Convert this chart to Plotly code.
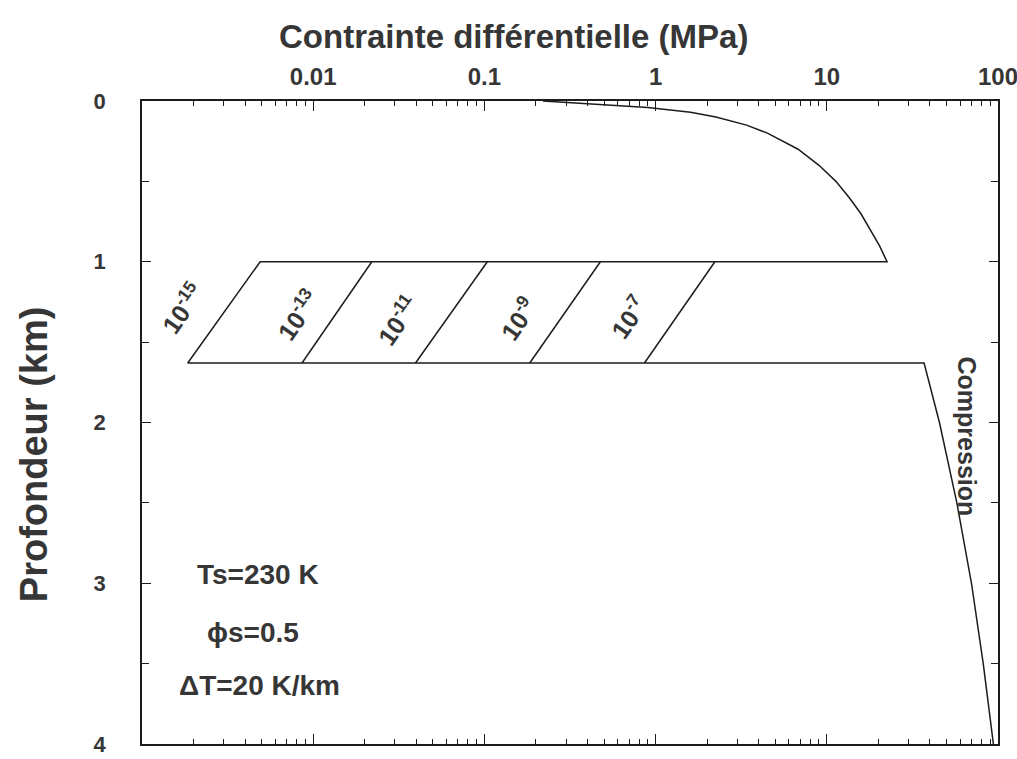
import numpy as np
import plotly.graph_objects as go

# Brittle (frictional) strength near the surface: depth (km) vs stress (MPa)
brittle_depth = [0.0, 0.02, 0.04, 0.07, 0.1, 0.15, 0.2, 0.3, 0.4, 0.5, 0.6, 0.7, 0.8, 0.9, 1.0]
brittle_stress = [0.22, 0.45, 0.9, 1.6, 2.25, 3.4, 4.5, 6.8, 9.0, 11.3, 13.5, 15.8, 18.0, 20.3, 22.5]

# Ductile band between the two transition depths, one line per strain rate
transition_top_depth = 1.0
transition_base_depth = 1.63
strain_rate_labels = ["10<sup>-15</sup>", "10<sup>-13</sup>", "10<sup>-11</sup>",
                      "10<sup>-9</sup>", "10<sup>-7</sup>"]
ductile_stress_top = [0.0049, 0.022, 0.104, 0.476, 2.22]
ductile_stress_base = [0.00185, 0.0086, 0.0396, 0.184, 0.861]
label_stress = [0.00172, 0.00807, 0.031, 0.158, 0.695]
label_depth = [1.29, 1.33, 1.36, 1.35, 1.345]

# Compressive strength below the band
compression_depth = [1.63, 2.0, 2.5, 3.0, 3.5, 4.0]
compression_stress = [37.0, 45.5, 57.5, 70.0, 82.0, 94.0]

# Axis ticks
x_tickvals = [0.01, 0.1, 1, 10, 100]
x_ticktext = ["0.01", "0.1", "1", "10", "100"]
x_minor = [m * 10.0 ** e for e in range(-3, 2) for m in range(2, 10)]
y_tickvals = [0, 1, 2, 3, 4]

LINE = "#1c1c1c"
TEXT = "#363636"
FONT = "Liberation Sans, Arial, Helvetica, sans-serif"

fig = go.Figure()

# Outer envelope: brittle curve, top of band, 10^-15 line, base of band, compression
outline_x = brittle_stress + [ductile_stress_top[0], ductile_stress_base[0]] + compression_stress
outline_y = brittle_depth + [transition_top_depth, transition_base_depth] + compression_depth
fig.add_trace(go.Scatter(x=outline_x, y=outline_y, mode="lines",
                         line=dict(color=LINE, width=1.5), hoverinfo="skip"))

# Remaining strain-rate lines across the band
sx, sy = [], []
for top, base in zip(ductile_stress_top[1:], ductile_stress_base[1:]):
    sx += [top, base, None]
    sy += [transition_top_depth, transition_base_depth, None]
fig.add_trace(go.Scatter(x=sx, y=sy, mode="lines",
                         line=dict(color=LINE, width=1.5), hoverinfo="skip"))

annotations = []
for lab, xs, yd in zip(strain_rate_labels, label_stress, label_depth):
    annotations.append(dict(x=np.log10(xs), y=yd, xref="x", yref="y", text="<b>" + lab + "</b>",
                            showarrow=False, textangle=-55,
                            font=dict(family=FONT, size=25, color=TEXT, weight="bold")))

annotations.append(dict(x=np.log10(66.0), y=2.088, xref="x", yref="y", text="Compression",
                        showarrow=False, textangle=90,
                        font=dict(family=FONT, size=25, color=TEXT, weight="bold")))

for txt, xs, yd in [("Ts=230 K", 0.00479, 2.945),
                    ("ϕs=0.5", 0.00446, 3.309),
                    ("ΔT=20 K/km", 0.00484, 3.637)]:
    annotations.append(dict(x=np.log10(xs), y=yd, xref="x", yref="y", text=txt,
                            showarrow=False,
                            font=dict(family=FONT, size=28, color=TEXT, weight="bold")))

annotations.append(dict(x=0.434, y=1.1, xref="paper", yref="paper",
                        text="Contrainte différentielle (MPa)", showarrow=False,
                        xanchor="center", yanchor="middle",
                        font=dict(family=FONT, size=33, color=TEXT, weight="bold")))
annotations.append(dict(x=-0.1267, y=0.45, xref="paper", yref="paper",
                        text="Profondeur (km)", showarrow=False, textangle=-90,
                        xanchor="center", yanchor="middle",
                        font=dict(family=FONT, size=38, color=TEXT, weight="bold")))

fig.update_layout(
    width=1017, height=759,
    margin=dict(l=142, r=19, t=101, b=15, autoexpand=False),
    paper_bgcolor="white", plot_bgcolor="white",
    showlegend=False,
    annotations=annotations,
    xaxis=dict(type="log", range=[-3, 2], side="top",
               tickvals=x_tickvals, ticktext=x_ticktext,
               ticks="inside", ticklen=10, tickwidth=1.3, tickcolor=LINE,
               minor=dict(tickmode="array", tickvals=x_minor, ticks="inside",
                          ticklen=5, tickwidth=1.2, tickcolor=LINE),
               showline=True, linecolor=LINE, linewidth=1.6, mirror="allticks",
               showgrid=False, zeroline=False, ticklabelstandoff=5,
               automargin=False, ticklabeloverflow="allow",
               tickfont=dict(family=FONT, size=24, color=TEXT, weight="bold")),
    yaxis=dict(range=[4, 0], tickvals=y_tickvals,
               ticks="inside", ticklen=9, tickwidth=1.3, tickcolor=LINE,
               minor=dict(dtick=0.5, tick0=0, ticks="inside", ticklen=7,
                          tickwidth=1.2, tickcolor=LINE),
               showline=True, linecolor=LINE, linewidth=1.6, mirror="allticks",
               showgrid=False, zeroline=False, ticklabelstandoff=30,
               automargin=False, ticklabeloverflow="allow",
               tickfont=dict(family=FONT, size=22, color=TEXT, weight="bold")),
)

fig.write_html("out.html")
